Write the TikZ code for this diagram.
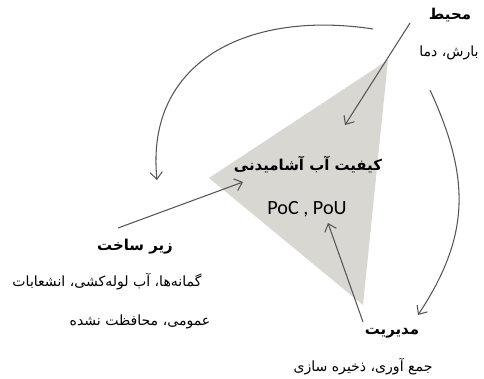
\documentclass[tikz,border=0pt]{standalone}
\usepackage{fontspec}
\usetikzlibrary{arrows.meta}
\TeXXeTstate=1
\newfontfamily\farsi[Script=Arabic]{DejaVu Sans}
\newfontfamily\latin{Carlito}
\definecolor{gristri}{RGB}{216,215,210}
\definecolor{gristrait}{RGB}{85,85,85}

\begin{document}
\begin{tikzpicture}[x=0.02cm,y=-0.02cm,
    titre/.style={font=\farsi\bfseries\fontsize{8.5}{10}\selectfont, inner sep=1pt},
    texte/.style={font=\farsi\fontsize{8}{10}\selectfont, inner sep=1pt},
    fleche/.style={draw=gristrait, line width=0.6pt, -{Straight Barb[length=4pt,width=7pt]}}]

\useasboundingbox (0,0) rectangle (484,379);

% sommets du triangle
\coordinate (T1) at (388,60);
\coordinate (T2) at (209,178);
\coordinate (T3) at (363,305);
\fill[gristri] (T1) -- (T2) -- (T3) -- cycle;

% textes
\node[titre] (qualite) at (308,165) {\beginR کیفیت آب آشامیدنی\endR};
\node[font=\latin\fontsize{11.5}{13}\selectfont] (poc) at (307,209) {PoC , PoU};
\node[titre] (milieu) at (450,15) {\beginR محیط\endR};
\node[texte] (milieuT) at (449,53) {\beginR بارش، دما\endR};
\node[titre] (infra) at (135,247) {\beginR زیر ساخت\endR};
\node[texte] (infraA) at (107,282) {\beginR گمانه‌ها، آب لوله‌کشی، انشعابات\endR};
\node[texte] (infraB) at (140,322) {\beginR عمومی، محافظت نشده\endR};
\node[titre] (gestion) at (392,333) {\beginR مدیریت\endR};
\node[texte] (gestionT) at (363,367) {\beginR جمع آوری، ذخیره سازی\endR};

% extremites des fleches
\coordinate (m1) at (410,23);
\coordinate (m2) at (345,125);
\coordinate (i1) at (118,228);
\coordinate (i2) at (243,182);
\coordinate (g1) at (363,322);
\coordinate (g2) at (328,223);
\coordinate (a1) at (373,29);
\coordinate (a2) at (157,180);
\coordinate (b1) at (430,90);
\coordinate (b2) at (418,315);

\draw[fleche] (m1) -- (m2);
\draw[fleche] (i1) -- (i2);
\draw[fleche] (g1) -- (g2);
% arcs exterieurs
\draw[fleche] (a1) .. controls (250,10) and (145,60) .. (a2);
\draw[fleche] (b1) .. controls (470,177) and (471,235) .. (b2);
\end{tikzpicture}
\end{document}
